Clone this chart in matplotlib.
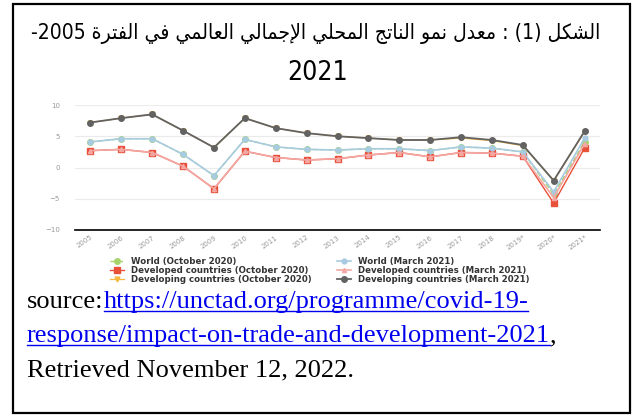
import numpy as np
import matplotlib
matplotlib.use('Agg')
import matplotlib.pyplot as plt
from matplotlib.patches import Rectangle
from matplotlib.lines import Line2D

# data
years = ['2005', '2006', '2007', '2008', '2009', '2010', '2011', '2012', '2013',
         '2014', '2015', '2016', '2017', '2018', '2019*', '2020*', '2021*']
world_oct20 = [4.1, 4.6, 4.6, 2.1, -1.3, 4.5, 3.3, 2.9, 2.8, 3.0, 3.0, 2.7, 3.3, 3.1, 2.5, -4.3, 4.1]
developed_oct20 = [2.7, 2.9, 2.4, 0.2, -3.4, 2.6, 1.6, 1.2, 1.4, 2.0, 2.4, 1.7, 2.4, 2.3, 1.8, -5.7, 3.1]
developing_oct20 = [7.2, 7.9, 8.5, 5.9, 3.2, 7.9, 6.3, 5.5, 5.0, 4.7, 4.4, 4.4, 4.7, 4.3, 3.5, -2.1, 5.7]
world_mar21 = [4.1, 4.6, 4.6, 2.1, -1.3, 4.5, 3.3, 2.9, 2.8, 3.0, 3.0, 2.7, 3.3, 3.1, 2.5, -3.9, 4.7]
developed_mar21 = [2.7, 2.9, 2.4, 0.2, -3.4, 2.6, 1.6, 1.2, 1.4, 2.0, 2.4, 1.7, 2.4, 2.3, 1.8, -4.8, 3.8]
developing_mar21 = [7.2, 7.9, 8.5, 5.9, 3.2, 7.9, 6.3, 5.5, 5.0, 4.7, 4.4, 4.4, 4.85, 4.4, 3.6, -2.1, 5.8]

title_line1 = 'الشكل (1) : معدل نمو الناتج المحلي الإجمالي العالمي في الفترة 2005-'
title_line2 = '2021'

# --- tiny arabic shaper (matplotlib has no shaping / bidi) ---
FORMS = {  # isolated, final, initial, medial
    'ا': ('\uFE8D', '\uFE8E', None, None),
    'إ': ('\uFE87', '\uFE88', None, None),
    'ت': ('\uFE95', '\uFE96', '\uFE97', '\uFE98'),
    'ة': ('\uFE93', '\uFE94', None, None),
    'ج': ('\uFE9D', '\uFE9E', '\uFE9F', '\uFEA0'),
    'ح': ('\uFEA1', '\uFEA2', '\uFEA3', '\uFEA4'),
    'د': ('\uFEA9', '\uFEAA', None, None),
    'ر': ('\uFEAD', '\uFEAE', None, None),
    'ش': ('\uFEB5', '\uFEB6', '\uFEB7', '\uFEB8'),
    'ع': ('\uFEC9', '\uFECA', '\uFECB', '\uFECC'),
    'ف': ('\uFED1', '\uFED2', '\uFED3', '\uFED4'),
    'ك': ('\uFED9', '\uFEDA', '\uFEDB', '\uFEDC'),
    'ل': ('\uFEDD', '\uFEDE', '\uFEDF', '\uFEE0'),
    'م': ('\uFEE1', '\uFEE2', '\uFEE3', '\uFEE4'),
    'ن': ('\uFEE5', '\uFEE6', '\uFEE7', '\uFEE8'),
    'و': ('\uFEED', '\uFEEE', None, None),
    'ي': ('\uFEF1', '\uFEF2', '\uFEF3', '\uFEF4'),
    '\uFEFB': ('\uFEFB', '\uFEFC', None, None),
    '\uFEF9': ('\uFEF9', '\uFEFA', None, None),
}
LAM_ALEF = {'ا': '\uFEFB', 'إ': '\uFEF9'}


def shape_word(w):
    chars = []
    i = 0
    while i < len(w):
        if w[i] == 'ل' and i + 1 < len(w) and w[i + 1] in LAM_ALEF:
            chars.append(LAM_ALEF[w[i + 1]])
            i += 2
        else:
            chars.append(w[i])
            i += 1
    out = []
    for i, c in enumerate(chars):
        f = FORMS.get(c)
        if f is None:
            out.append(c)
            continue
        prev = chars[i - 1] if i > 0 else None
        nxt = chars[i + 1] if i + 1 < len(chars) else None
        jp = prev in FORMS and FORMS[prev][2] is not None
        jn = f[2] is not None and nxt in FORMS
        if jp and jn:
            out.append(f[3])
        elif jp:
            out.append(f[1])
        elif jn:
            out.append(f[2])
        else:
            out.append(f[0])
    return ''.join(reversed(out))


def rtl(text):
    res = []
    for t in text.split(' ')[::-1]:
        if any('\u0600' <= c <= '\u06FF' for c in t):
            res.append(shape_word(t))
        elif t.endswith('-'):
            res.append('-' + t[:-1])
        else:
            res.append(t)
    return ' '.join(res)


W, H = 636, 418
fig = plt.figure(figsize=(W / 100, H / 100), dpi=100)

# document box
fig.add_artist(Rectangle((13 / W, 1 - 413 / H), 617 / W, 409 / H, transform=fig.transFigure,
                         fill=False, lw=1.6, ec='black'))

fig.canvas.draw()
r = fig.canvas.get_renderer()

# first title line: shrink to fit the box width (~567 px)
t1 = fig.text(316 / W, 1 - 33 / H, rtl(title_line1), ha='center', va='center', fontsize=19,
              family='DejaVu Sans', fontstretch='condensed')
w1 = t1.get_window_extent(r).width
t1.set_fontsize(19 * 567 / w1)
fig.text(318 / W, 1 - 73 / H, title_line2, ha='center', va='center', fontsize=19,
         family='DejaVu Sans', fontstretch='condensed')

# chart
ax = fig.add_axes([75 / W, 1 - 230 / H, 525 / W, 125 / H])
x = np.arange(len(years))

l1, = ax.plot(x, world_oct20, color='#a6d36b', ls='--', lw=1.0, marker='o', ms=4,
              label='World (October 2020)')
l2, = ax.plot(x, developed_oct20, color='#e8503a', lw=1.0, marker='s', ms=4,
              label='Developed countries (October 2020)')
l3, = ax.plot(x, developing_oct20, color='#f5b841', lw=0.9, marker='v', ms=3.5,
              label='Developing countries (October 2020)')
l4, = ax.plot(x, world_mar21, color='#a8cbe2', lw=1.2, marker='o', ms=3.5,
              label='World (March 2021)')
l5, = ax.plot(x, developed_mar21, color='#f4a7a3', lw=1.2, marker='^', ms=3,
              label='Developed countries (March 2021)')
l6, = ax.plot(x, developing_mar21, color='#626262', lw=1.3, marker='o', ms=4,
              label='Developing countries (March 2021)')

ax.set_xlim(-0.5, 16.5)
ax.set_ylim(-10, 10)
ax.set_yticks([-10, -5, 0, 5, 10])
ax.set_xticks(x)
ax.set_xticklabels(years, rotation=35, ha='right', rotation_mode='anchor')
ax.tick_params(axis='both', length=0, labelsize=5, labelcolor='#999999')
ax.tick_params(axis='y', pad=11)
ax.tick_params(axis='x', pad=3)
ax.grid(axis='y', color='#ebebeb', lw=0.8)
ax.set_axisbelow(True)
for s in ['top', 'right', 'left']:
    ax.spines[s].set_visible(False)
ax.spines['bottom'].set_color('black')
ax.spines['bottom'].set_linewidth(1.2)

handles = [l1, l2, l3, l4, l5, l6]
fig.legend(handles, [h.get_label() for h in handles],
           ncol=2, loc='upper center', bbox_to_anchor=(320 / W, 1 - 253 / H), frameon=False,
           prop={'weight': 'bold', 'size': 6.2}, labelcolor='#333333', handlelength=1.6,
           handletextpad=0.8, columnspacing=3.0, labelspacing=0.0, borderpad=0)

# source lines, serif, link underlined
link_col = '#0000ee'
serif = 'Liberation Serif'
fs = 19
y1, y2, y3 = 1 - 308 / H, 1 - 342 / H, 1 - 376 / H
x0 = 27 / W


def put(xf, yf, s, color='black'):
    t = fig.text(xf, yf, s, va='baseline', ha='left', fontsize=fs, family=serif, color=color)
    return t.get_window_extent(r)


def underline(bb, yf):
    yy = yf - 2.5 / H
    fig.add_artist(Line2D([bb.x0 / W, bb.x1 / W], [yy, yy], transform=fig.transFigure,
                          color=link_col, lw=1.0))


bb = put(x0, y1, 'source:')
bb = put(bb.x1 / W, y1, 'https://unctad.org/programme/covid-19-', link_col)
underline(bb, y1)
bb = put(x0, y2, 'response/impact-on-trade-and-development-2021', link_col)
underline(bb, y2)
put(bb.x1 / W, y2, ',')
put(x0, y3, 'Retrieved November 12, 2022.')

fig.savefig('out.png', dpi=100)
